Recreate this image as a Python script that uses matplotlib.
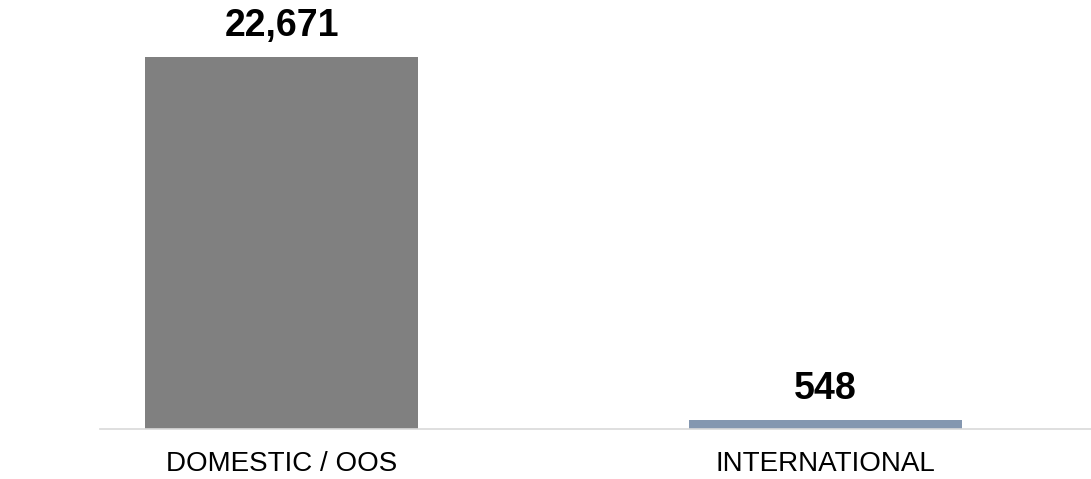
import matplotlib.pyplot as plt

categories = ["DOMESTIC / OOS", "INTERNATIONAL"]
values = [22671, 548]
colors = ["#808080", "#8497B0"]

plt.rcParams['font.family'] = ['Liberation Sans', 'DejaVu Sans']

fig = plt.figure(figsize=(10.91, 4.79), dpi=100)
ax = fig.add_axes([100 / 1091, 50 / 479, 1 - 100 / 1091, 0.961 - 50 / 479])

x = range(len(categories))
bars = ax.bar(x, values, width=0.502, color=colors)

for b, v in zip(bars, values):
    ax.annotate(f"{v:,}", (b.get_x() + b.get_width() / 2, v),
                xytext=(0, 13), textcoords="offset pixels",
                ha="center", va="bottom", fontsize=27, fontweight="bold")

ax.set_xlim(-0.334, 1.489)
ax.set_ylim(0, 25000)
ax.set_xticks(list(x))
ax.set_xticklabels(categories, fontsize=20)
ax.tick_params(axis="x", length=0, pad=16)
ax.set_yticks([])
for s in ["top", "right", "left"]:
    ax.spines[s].set_visible(False)
ax.spines["bottom"].set_color("#D9D9D9")
ax.spines["bottom"].set_linewidth(1.2)

fig.savefig("out.png", dpi=100)
